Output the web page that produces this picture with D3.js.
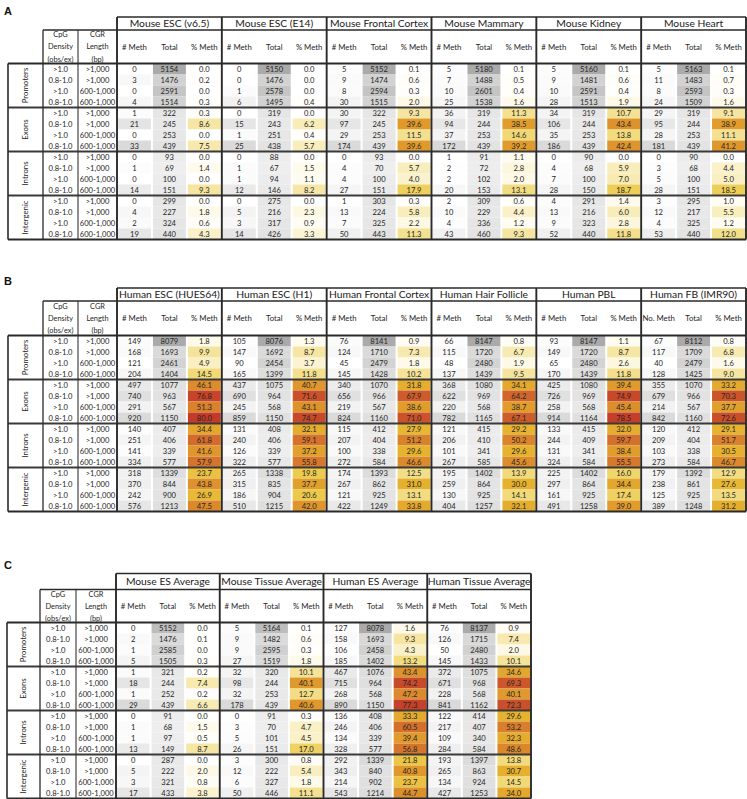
<!DOCTYPE html>
<html><head><meta charset="utf-8">
<script src="https://cdn.jsdelivr.net/npm/d3@7"></script>
<style>
body{margin:0;background:#fff}
svg{display:block}
text{font-family:Lato,"Open Sans",sans-serif;fill:#262626}
</style>
</head><body><svg id="chart" width="747" height="799"></svg>
<script>
// ---------- shared labels ----------
const regions = ["Promoters", "Exons", "Introns", "Intergenic"];
const cpgDensity = [">1.0", "0.8-1.0", ">1.0", "0.8-1.0"];
const cgrLength = [">1,000", ">1,000", "600-1,000", "600-1,000"];
const subHeaders = ["# Meth", "Total", "% Meth"];
const leftHeaderCpG = ["CpG", "Density", "(obs/ex)"];
const leftHeaderCGR = ["CGR", "Length", "(bp)"];

// ---------- Panel A (mouse) ----------
const samplesA = ["Mouse ESC (v6.5)", "Mouse ESC (E14)", "Mouse Frontal Cortex", "Mouse Mammary", "Mouse Kidney", "Mouse Heart"];
const methA = [
  [0,3,0,4, 1,21,0,33, 0,1,0,14, 0,4,2,19],
  [0,0,1,6, 0,15,1,25, 0,1,1,12, 0,5,3,14],
  [5,9,8,30, 30,97,29,174, 0,4,4,27, 1,13,7,50],
  [5,7,10,25, 36,94,37,172, 1,2,2,20, 2,10,4,43],
  [5,9,10,28, 34,106,35,186, 0,4,7,28, 4,13,9,52],
  [5,11,8,24, 29,95,28,181, 0,3,5,28, 3,12,4,53]
];
const totalA = [
  [5154,1476,2591,1514, 322,245,253,439, 93,69,100,151, 299,227,324,440],
  [5150,1476,2578,1495, 319,243,251,438, 88,67,94,146, 275,216,317,426],
  [5152,1474,2594,1515, 322,245,253,439, 93,70,100,151, 303,224,325,443],
  [5180,1488,2601,1538, 319,244,253,439, 91,72,102,153, 309,229,336,460],
  [5160,1481,2591,1513, 319,244,253,439, 90,68,100,150, 291,216,323,440],
  [5163,1483,2593,1509, 319,244,253,439, 90,68,100,151, 295,217,325,440]
];
const pctA = [
  [0.0,0.2,0.0,0.3, 0.3,8.6,0.0,7.5, 0.0,1.4,0.0,9.3, 0.0,1.8,0.6,4.3],
  [0.0,0.0,0.0,0.4, 0.0,6.2,0.4,5.7, 0.0,1.5,1.1,8.2, 0.0,2.3,0.9,3.3],
  [0.1,0.6,0.3,2.0, 9.3,39.6,11.5,39.6, 0.0,5.7,4.0,17.9, 0.3,5.8,2.2,11.3],
  [0.1,0.5,0.4,1.6, 11.3,38.5,14.6,39.2, 1.1,2.8,2.0,13.1, 0.6,4.4,1.2,9.3],
  [0.1,0.6,0.4,1.9, 10.7,43.4,13.8,42.4, 0.0,5.9,7.0,18.7, 1.4,6.0,2.8,11.8],
  [0.1,0.7,0.3,1.6, 9.1,38.9,11.1,41.2, 0.0,4.4,5.0,18.5, 1.0,5.5,1.2,12.0]
];

// ---------- Panel B (human) ----------
const samplesB = ["Human ESC (HUES64)", "Human ESC (H1)", "Human Frontal Cortex", "Human Hair Follicle", "Human PBL", "Human FB (IMR90)"];
const methLabelB = ["# Meth", "# Meth", "# Meth", "# Meth", "# Meth", "No. Meth"];
const methB = [
  [149,168,121,204, 497,740,291,920, 140,251,141,334, 318,370,242,576],
  [105,147,90,165, 437,690,245,859, 131,240,126,322, 265,315,186,510],
  [76,124,45,145, 340,656,219,824, 115,207,100,272, 174,267,121,422],
  [66,115,48,137, 368,622,220,782, 121,206,101,267, 195,259,130,404],
  [93,149,65,170, 425,726,258,914, 133,244,131,324, 225,297,161,491],
  [67,117,40,128, 355,679,214,842, 120,209,103,273, 179,238,125,389]
];
const totalB = [
  [8079,1693,2461,1404, 1077,963,567,1150, 407,406,339,577, 1339,844,900,1213],
  [8076,1692,2454,1399, 1075,964,568,1150, 408,406,339,577, 1338,835,904,1215],
  [8141,1710,2479,1428, 1070,966,567,1160, 412,404,338,584, 1393,862,925,1249],
  [8147,1720,2480,1439, 1080,969,568,1165, 415,410,341,585, 1402,864,925,1257],
  [8147,1720,2480,1439, 1080,969,568,1164, 415,409,341,584, 1402,864,925,1258],
  [8112,1709,2479,1425, 1070,966,567,1160, 412,404,338,584, 1392,861,925,1248]
];
const pctB = [
  [1.8,9.9,4.9,14.5, 46.1,76.8,51.3,80.0, 34.4,61.8,41.6,57.9, 23.7,43.8,26.9,47.5],
  [1.3,8.7,3.7,11.8, 40.7,71.6,43.1,74.7, 32.1,59.1,37.2,55.8, 19.8,37.7,20.6,42.0],
  [0.9,7.3,1.8,10.2, 31.8,67.9,38.6,71.0, 27.9,51.2,29.6,46.6, 12.5,31.0,13.1,33.8],
  [0.8,6.7,1.9,9.5, 34.1,64.2,38.7,67.1, 29.2,50.2,29.6,45.6, 13.9,30.0,14.1,32.1],
  [1.1,8.7,2.6,11.8, 39.4,74.9,45.4,78.5, 32.0,59.7,38.4,55.5, 16.0,34.4,17.4,39.0],
  [0.8,6.8,1.6,9.0, 33.2,70.3,37.7,72.6, 29.1,51.7,30.5,46.7, 12.9,27.6,13.5,31.2]
];

// ---------- Panel C (averages) ----------
const samplesC = ["Mouse ES Average", "Mouse Tissue Average", "Human ES Average", "Human Tissue Average"];
const methC = [
  [0,2,1,5, 1,18,1,29, 0,1,1,13, 0,5,3,17],
  [5,9,9,27, 32,98,32,178, 0,3,5,26, 3,12,6,50],
  [127,158,106,185, 467,715,268,890, 136,246,134,328, 292,343,214,543],
  [76,126,50,145, 372,671,228,841, 122,217,109,284, 193,265,134,427]
];
const totalC = [
  [5152,1476,2585,1505, 321,244,252,439, 91,68,97,149, 287,222,321,433],
  [5164,1482,2595,1519, 320,244,253,439, 91,70,101,151, 300,222,327,446],
  [8078,1693,2458,1402, 1076,964,568,1150, 408,406,339,577, 1339,840,902,1214],
  [8137,1715,2480,1433, 1075,968,568,1162, 414,407,340,584, 1397,863,924,1253]
];
const pctC = [
  [0.0,0.1,0.0,0.3, 0.2,7.4,0.2,6.6, 0.0,1.5,0.5,8.7, 0.0,2.0,0.8,3.8],
  [0.1,0.6,0.3,1.8, 10.1,40.1,12.7,40.6, 0.3,4.7,4.5,17.0, 0.8,5.4,1.8,11.1],
  [1.6,9.3,4.3,13.2, 43.4,74.2,47.2,77.3, 33.3,60.5,39.4,56.8, 21.8,40.8,23.7,44.7],
  [0.9,7.4,2.0,10.1, 34.6,69.3,40.1,72.3, 29.6,53.2,32.3,48.6, 13.8,30.7,14.5,34.0]
];

// ---------- drawing ----------
const svg = d3.select("#chart");
const pctColor = d3.scaleLinear()
  .domain([0, 2, 5, 10, 15, 20, 30, 40, 50, 60, 70, 80])
  .range(["#ffffff", "#fdf9e6", "#f9efc2", "#f4e39a", "#f0d872", "#ecca4c", "#e6b22e", "#e0992c", "#da842c", "#d4702c", "#cc552b", "#c43a29"])
  .clamp(true);

const fmtInt = d3.format("d");
const fmtPct = d3.format(".1f");

function drawPanel(cfg) {
  const g = svg.append("g");
  const rowH = 11;
  const nRows = 16;
  const [xL, xG, xC, xD] = cfg.xs;
  const yTop = cfg.h2Bot;
  const yBot = yTop + rowH * nRows;
  const y = d3.scaleBand().domain(d3.range(nRows)).range([yTop, yBot]);
  const xS = d3.scaleBand().domain(d3.range(cfg.samples.length)).range([xD, cfg.right]);
  const xSub = d3.scaleBand().domain([0, 1, 2]).range([0, xS.bandwidth()]);

  g.append("text").attr("x", 4).attr("y", cfg.labelY)
    .style("font-family", "'Liberation Sans',Arial,sans-serif")
    .style("font-weight", "bold").style("font-size", "11px").style("fill", "#111")
    .text(cfg.letter);

  const rows = d3.range(nRows);
  const tExt = d3.extent(cfg.total.flat());
  const totCol = v => d3.interpolateRgb("#eeeeee", "#aaaaaa")(Math.pow((v - tExt[0]) / ((tExt[1] - tExt[0]) || 1), 0.7));
  cfg.samples.forEach((name, si) => {
    const x0 = xS(si);
    const meth = cfg.meth[si], total = cfg.total[si], pct = cfg.pct[si];
    const mExt = d3.extent(meth);
    const methCol = v => d3.interpolateRgb("#ffffff", "#dadada")(Math.pow((v - mExt[0]) / ((mExt[1] - mExt[0]) || 1), 0.7));
    const cols = [
      {vals: meth, color: methCol, fmt: fmtInt},
      {vals: total, color: totCol, fmt: fmtInt},
      {vals: pct, color: v => pctColor(v), fmt: fmtPct}
    ];
    cols.forEach((c, ci) => {
      const cx = x0 + xSub(ci);
      const bw = xSub.bandwidth();
      g.append("g").selectAll("rect").data(rows).join("rect")
        .attr("x", cx + 1).attr("width", bw - 2)
        .attr("y", i => y(i)).attr("height", y.bandwidth())
        .attr("fill", i => c.color(c.vals[i]));
      g.append("g").selectAll("text").data(rows).join("text")
        .attr("x", cx + bw / 2).attr("y", i => y(i) + y.bandwidth() / 2)
        .attr("dy", "0.36em").attr("text-anchor", "middle")
        .style("font-size", "7.6px")
        .text(i => c.fmt(c.vals[i]));
      g.append("text").attr("x", cx + bw / 2).attr("y", (cfg.h1Bot + cfg.h2Bot) / 2)
        .attr("dy", "0.36em").attr("text-anchor", "middle")
        .style("font-size", "7.8px")
        .text(ci === 0 ? (cfg.methLabels ? cfg.methLabels[si] : subHeaders[0]) : subHeaders[ci]);
    });
    g.append("text").attr("x", x0 + xS.bandwidth() / 2).attr("y", (cfg.h1Top + cfg.h1Bot) / 2)
      .attr("dy", "0.36em").attr("text-anchor", "middle")
      .style("font-size", "10.3px").style("fill", "#1a1a1a")
      .text(cfg.samples[si]);
  });

  const midH2 = (cfg.h1Bot + cfg.h2Bot) / 2;
  [[leftHeaderCpG, (xG + xC) / 2], [leftHeaderCGR, (xC + xD) / 2]].forEach(([lines, cx]) => {
    lines.forEach((t, k) => {
      g.append("text").attr("x", cx).attr("y", midH2 + (k - 1) * cfg.lineGap)
        .attr("dy", "0.36em").attr("text-anchor", "middle")
        .style("font-size", "7.4px").text(t);
    });
  });
  g.append("g").selectAll("text").data(rows).join("text")
    .attr("x", (xG + xC) / 2).attr("y", i => y(i) + y.bandwidth() / 2)
    .attr("dy", "0.36em").attr("text-anchor", "middle").style("font-size", "7.6px")
    .text(i => cpgDensity[i % 4]);
  g.append("g").selectAll("text").data(rows).join("text")
    .attr("x", (xC + xD) / 2).attr("y", i => y(i) + y.bandwidth() / 2)
    .attr("dy", "0.36em").attr("text-anchor", "middle").style("font-size", "7.6px")
    .text(i => cgrLength[i % 4]);
  regions.forEach((r, ri) => {
    const cy = y(ri * 4) + 2 * rowH;
    const cx = (xL + xG) / 2;
    g.append("text").attr("transform", `translate(${cx},${cy}) rotate(-90)`)
      .attr("dy", "0.36em").attr("text-anchor", "middle")
      .style("font-size", "7.8px").text(r);
  });

  const line = (x1, y1, x2, y2, w, c) => g.append("line")
    .attr("x1", x1).attr("y1", y1).attr("x2", x2).attr("y2", y2)
    .attr("stroke", c).attr("stroke-width", w);
  const dark = "#2a2a2a";
  line(xD, cfg.h1Top, cfg.right, cfg.h1Top, 1.6, dark);
  line(xG, cfg.h1Bot, cfg.right, cfg.h1Bot, 1.6, dark);
  line(xL, yTop, cfg.right, yTop, 1.9, dark);
  [4, 8, 12].forEach(i => line(xL, y(i), cfg.right, y(i), 1.9, "#3a3a3a"));
  line(xL, yBot, cfg.right, yBot, 1.9, dark);
  line(xL, yTop, xL, yBot, 1.6, dark);
  line(xG, cfg.h1Bot, xG, yBot, 1.3, dark);
  line(xC, cfg.h1Bot, xC, yBot, 1.1, "#333");
  d3.range(cfg.samples.length).forEach(si => line(xS(si), cfg.h1Top, xS(si), yBot, 1.9, dark));
  line(cfg.right, cfg.h1Top, cfg.right, yBot, 1.9, dark);
}

drawPanel({letter: "A", labelY: 15, h1Top: 17, h1Bot: 30, h2Bot: 63.5, lineGap: 12.2,
  xs: [8, 43, 78, 117], right: 746, samples: samplesA, meth: methA, total: totalA, pct: pctA});
drawPanel({letter: "B", labelY: 284.5, h1Top: 288, h1Bot: 301, h2Bot: 335.5, lineGap: 12.2,
  xs: [8, 43, 78, 117], right: 746, samples: samplesB, meth: methB, total: totalB, pct: pctB, methLabels: methLabelB});
drawPanel({letter: "C", labelY: 568.5, h1Top: 573.5, h1Bot: 589.5, h2Bot: 622.5, lineGap: 12,
  xs: [7, 40, 76, 116], right: 531, samples: samplesC, meth: methC, total: totalC, pct: pctC});
</script>
</body></html>
